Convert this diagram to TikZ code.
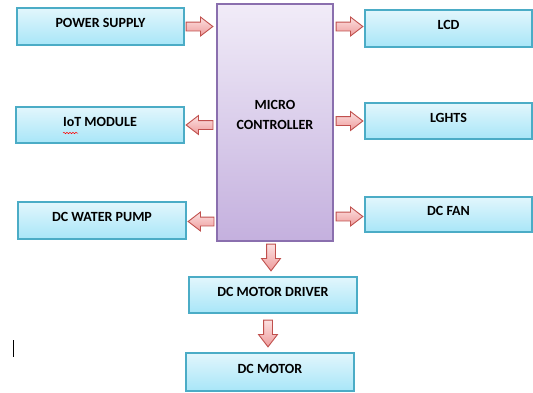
\documentclass[tikz,border=0pt]{standalone}
\usepackage{fontspec}
\setmainfont{Carlito}
\usepackage{xcolor}
\usetikzlibrary{positioning,calc,shapes.arrows,shadows,decorations.pathmorphing}

\definecolor{boxline}{HTML}{4BACC6}
\definecolor{boxtop}{HTML}{E2F6FC}
\definecolor{boxbot}{HTML}{A8E6F8}
\definecolor{mculine}{HTML}{8A6FAE}
\definecolor{mcutop}{HTML}{F1ECF8}
\definecolor{mcubot}{HTML}{C4B0DE}
\definecolor{arrowline}{HTML}{C0504D}
\definecolor{arrowtop}{HTML}{FCE0E0}
\definecolor{arrowbot}{HTML}{EE9C9C}

\tikzset{
  blockbox/.style={draw=boxline, line width=1.2pt, top color=boxtop, bottom color=boxbot,
    minimum width=168, minimum height=37, inner sep=0pt,
    font=\fontsize{14}{17}\selectfont\bfseries, text height=9pt, text depth=7pt,
    drop shadow={shadow xshift=1pt, shadow yshift=-1pt, opacity=0.25}},
  mcubox/.style={draw=mculine, line width=1.2pt, top color=mcutop, bottom color=mcubot,
    minimum width=116, minimum height=237, inner sep=0pt,
    drop shadow={shadow xshift=1pt, shadow yshift=-1pt, opacity=0.25}},
  fatarrow/.style={single arrow, draw=arrowline, line width=0.9pt,
    top color=arrowtop, bottom color=arrowbot, inner sep=4pt,
    single arrow head extend=5pt, single arrow tip angle=75}
}

% block arrow from #2 to #3, named #1
\newcommand{\blockarrow}[3]{%
  \path let \p1=#2, \p2=#3, \n1={atan2(\y2-\y1,\x2-\x1)}, \n2={veclen(\x2-\x1,\y2-\y1)} in
    node[fatarrow, minimum height=\n2, rotate=\n1, anchor=tail] (#1) at (\p1) {};}

\begin{document}
\begin{tikzpicture}[x=1pt, y=-1pt]
\path[use as bounding box, fill=white] (0,0) rectangle (533,392);

\node[mcubox] (mcu) at (275,122.5) {};
\node[font=\fontsize{14}{17}\selectfont\bfseries, align=center] (mcutext) at (275,115)
    {MICRO\\[3pt]CONTROLLER};

\node[blockbox, minimum width=167] (ps) at (100.5,26.5) {POWER SUPPLY};
\node[blockbox, minimum height=36] (iot) at (100,125) {IoT MODULE};
\node[blockbox] (pump) at (102,220.5) {DC WATER PUMP};

\node[blockbox, minimum width=167] (lcd) at (448.5,28.5) {LCD};
\node[blockbox, minimum width=167, minimum height=36] (lights) at (448.5,121) {LGHTS};
\node[blockbox, minimum width=167, minimum height=35] (fan) at (448.5,214.5) {DC FAN};

\node[blockbox, minimum height=36] (drv) at (273,295) {DC MOTOR DRIVER};
\node[blockbox, minimum height=38] (motor) at (270,372) {DC MOTOR};

\blockarrow{aps}{($(ps.east)+(1,0)$)}{($(mcu.west |- ps.east)+(-4,0)$)}
\blockarrow{aiot}{($(mcu.west |- iot.east)+(-3,0)$)}{($(iot.east)+(2,0)$)}
\blockarrow{apump}{($(mcu.west |- pump.east)+(-2,1)$)}{($(pump.east)+(2,1)$)}
\blockarrow{alcd}{($(mcu.east |- lcd.west)+(2,-2)$)}{($(lcd.west)+(-2,-2)$)}
\blockarrow{alights}{($(mcu.east |- lights.west)+(2,0)$)}{($(lights.west)+(-2,0)$)}
\blockarrow{afan}{($(mcu.east |- fan.west)+(2,2)$)}{($(fan.west)+(-2,2)$)}
\blockarrow{adrv}{($(mcu.south)+(-4,2)$)}{($(drv.north)+(-2,-6)$)}
\blockarrow{amotor}{($(drv.south)+(-5,6)$)}{($(motor.north)+(-2,-6)$)}

% spell-check mark and caret
\draw[red, line width=0.5pt, decorate, decoration={snake, amplitude=0.7pt, segment length=3pt}]
    ($(iot.center)+(-37,8)$) -- ($(iot.center)+(-22,8)$);
\draw[line width=1pt] (13,340) -- (13,357);
\end{tikzpicture}
\end{document}
